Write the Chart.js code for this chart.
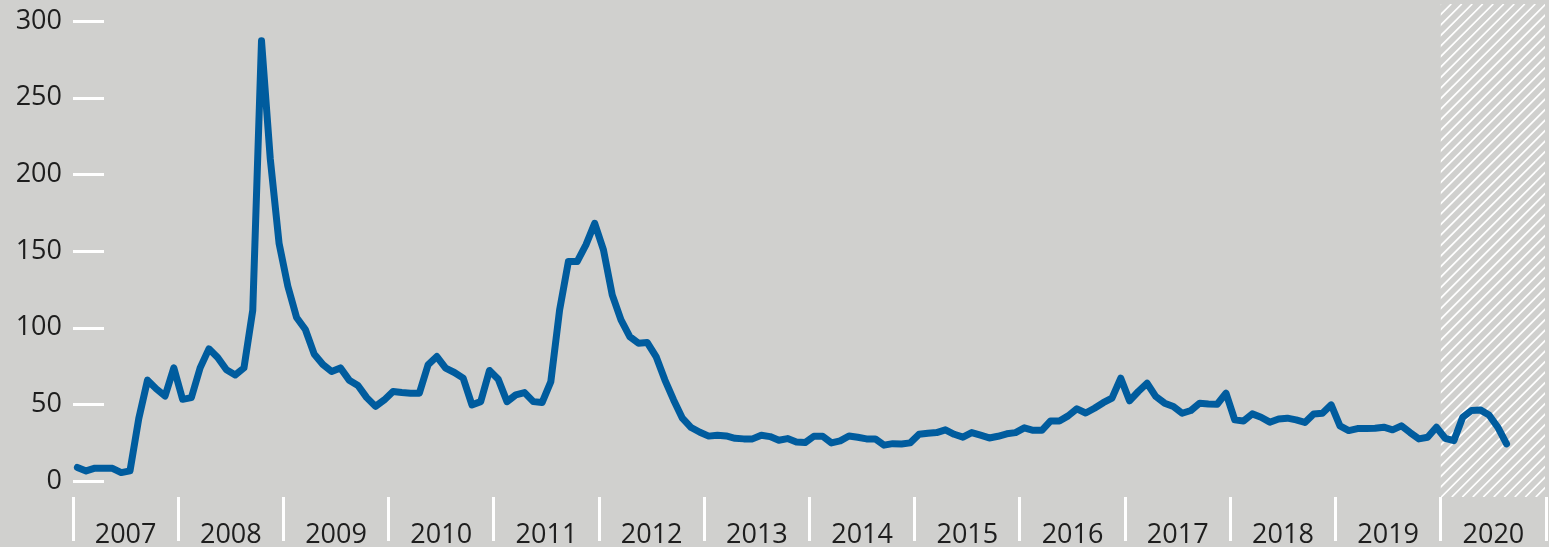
<!DOCTYPE html>
<html>
<head>
<meta charset="utf-8">
<script src="https://cdn.jsdelivr.net/npm/chart.js@4.4.1/dist/chart.umd.min.js"></script>
<style>
html,body{margin:0;padding:0;background:#d0d0ce;overflow:hidden}
#wrap{width:1549px;height:547px;position:relative}
canvas{display:block}
</style>
</head>
<body>
<div id="wrap"><canvas id="c" width="1549" height="547"></canvas></div>
<script>
// ---- data (monthly values) ----
const years = [2007,2008,2009,2010,2011,2012,2013,2014,2015,2016,2017,2018,2019,2020];
const v2007 = [8.8, 6.5, 8.3, 8.3, 8.2, 5.4, 6.5, 40.6, 65.7, 60, 55.4, 73.7];
const v2008 = [53.2, 54.3, 73.7, 86.1, 80.5, 72.5, 69.1, 73.7, 111.2, 287, 210, 155];
const v2009 = [127, 106.6, 98.7, 82.8, 75.9, 71.4, 73.7, 65.7, 62.2, 54.3, 48.6, 52.8];
const v2010 = [58.3, 57.6, 57.2, 57.2, 75.7, 81.1, 73.5, 70.7, 67, 49.6, 51.7, 72];
const v2011 = [66.3, 51.7, 56.1, 57.6, 51.7, 51.1, 64.8, 111.5, 143, 143, 153.9, 168];
const v2012 = [150.7, 121.3, 105, 94.1, 89.8, 90.2, 81.1, 65.9, 52.8, 40.9, 34.8, 31.7];
const v2013 = [29.2, 29.8, 29.3, 27.8, 27.4, 27.4, 29.8, 28.9, 26.5, 27.6, 25.4, 25];
const v2014 = [29.1, 29.1, 24.8, 26.1, 29.3, 28.5, 27.4, 27.4, 23.3, 24.3, 24.1, 24.8];
const v2015 = [30.4, 31.1, 31.5, 33.3, 30.4, 28.5, 31.5, 29.8, 28, 29.1, 30.7, 31.5];
const v2016 = [34.6, 33, 33, 39.1, 39.1, 42.4, 47, 44.3, 47.4, 51, 54, 67];
const v2017 = [52.2, 58.3, 63.7, 55, 50.7, 48.5, 44.1, 45.9, 50.7, 50.2, 50, 57.2];
const v2018 = [39.8, 39.1, 43.7, 41.5, 38.3, 40.4, 40.9, 39.8, 38.1, 43.7, 44.1, 49.6];
const v2019 = [35.9, 32.8, 34.1, 34.1, 34.3, 35, 33.3, 35.9, 31.5, 27.4, 28.5, 35];
const v2020 = [27.8, 26.3, 41.5, 45.9, 46.3, 43, 35, 24.1];
const yTicks = [0, 50, 100, 150, 200, 250, 300];
const hatchedYear = 2020;

const series = [v2007,v2008,v2009,v2010,v2011,v2012,v2013,v2014,v2015,v2016,v2017,v2018,v2019,v2020];
const points = [];
series.forEach((arr, yi) => arr.forEach((v, m) => points.push({x: yi * 12 + m + 0.5, y: v})));

const BG = '#d0d0ce';
const LINE = 'rgb(0,92,158)';
const TEXT = '#1e1e1e';

const bgPlugin = {
  id: 'bg',
  beforeDraw(chart) {
    const c = chart.ctx;
    c.save();
    c.fillStyle = BG;
    c.fillRect(0, 0, chart.width, chart.height);
    c.restore();
  }
};

const decoPlugin = {
  id: 'deco',
  beforeDatasetsDraw(chart) {
    const c = chart.ctx, xs = chart.scales.x, ys = chart.scales.y, a = chart.chartArea;
    // hatched forecast year
    const hi = years.indexOf(hatchedYear);
    const x1 = xs.getPixelForValue(hi * 12), x2 = xs.getPixelForValue((hi + 1) * 12) - 1;
    const top = a.top, bot = a.bottom, h = bot - top;
    c.save();
    c.beginPath();
    c.rect(x1, top, x2 - x1, h);
    c.clip();
    c.strokeStyle = '#ffffff';
    c.lineWidth = 1.7;
    c.beginPath();
    for (let k = x1 - h; k < x2 + 2; k += 10.5) {
      c.moveTo(k, bot);
      c.lineTo(k + h, top);
    }
    c.stroke();
    c.restore();
    // short white y tick marks
    c.save();
    c.strokeStyle = '#ffffff';
    c.lineWidth = 3;
    yTicks.forEach(v => {
      const y = Math.round(ys.getPixelForValue(v)) + 0.5;
      c.beginPath();
      c.moveTo(a.left, y);
      c.lineTo(a.left + 31, y);
      c.stroke();
    });
    c.restore();
  }
};

new Chart(document.getElementById('c'), {
  type: 'line',
  data: {
    datasets: [{
      data: points,
      borderColor: LINE,
      borderWidth: 7,
      borderJoinStyle: 'round',
      borderCapStyle: 'round',
      pointRadius: 0,
      tension: 0,
      fill: false
    }]
  },
  options: {
    responsive: false,
    animation: false,
    events: [],
    layout: { padding: { top: 4, right: 3, left: 0, bottom: 0 } },
    plugins: { legend: { display: false }, tooltip: { enabled: false } },
    scales: {
      x: {
        type: 'linear',
        min: 0,
        max: years.length * 12,
        afterFit(s) { s.height = 50; s.paddingLeft = 0; s.paddingRight = 0; },
        afterBuildTicks(s) {
          const t = [];
          for (let v = 0; v <= years.length * 12; v += 6) t.push({ value: v });
          s.ticks = t;
        },
        border: { display: false },
        grid: {
          drawOnChartArea: false,
          drawTicks: true,
          tickLength: 44,
          lineWidth: 3,
          color: (ctx) => (ctx.tick && ctx.tick.value % 12 === 0) ? '#ffffff' : 'rgba(0,0,0,0)'
        },
        ticks: {
          autoSkip: false,
          maxRotation: 0,
          minRotation: 0,
          padding: -22,
          color: TEXT,
          font: { family: "'Open Sans'", size: 27 },
          callback: (v) => (v % 12 === 6) ? String(years[(v - 6) / 12]) : ''
        }
      },
      y: {
        min: -10.5,
        max: 311,
        afterFit(s) { s.width = 73; s.paddingTop = 0; s.paddingBottom = 0; },
        afterBuildTicks(s) { s.ticks = yTicks.map(v => ({ value: v })); },
        border: { display: false },
        grid: { display: false, drawTicks: false },
        ticks: {
          padding: 11,
          color: TEXT,
          font: { family: "'Open Sans'", size: 27 }
        }
      }
    }
  },
  plugins: [bgPlugin, decoPlugin]
});
</script>
</body>
</html>
